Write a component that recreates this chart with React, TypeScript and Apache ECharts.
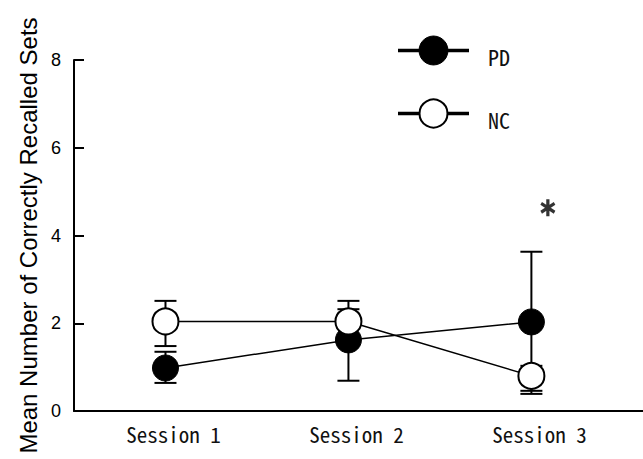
import React, { useEffect, useRef } from "react";
import * as echarts from "echarts";

const categories = ["Session 1", "Session 2", "Session 3"];
const xPositions = [1, 2, 3];
const pdMean = [0.98, 1.62, 2.03];
const pdLow = [0.64, 0.69, 0.46];
const pdHigh = [1.35, 2.32, 3.63];
const ncMean = [2.04, 2.04, 0.8];
const ncLow = [1.48, 1.57, 0.39];
const ncHigh = [2.51, 2.51, 1.03];
const yMin = 0;
const yMax = 8;
const yInterval = 2;
const sigMark = [3.09, 4.63];

const monoFont = '"Noto Sans Mono CJK JP", "DejaVu Sans Mono", monospace';
const sansFont = '"Liberation Sans", Arial, sans-serif';

const asteriskPath =
  "path://M40 0 L60 0 L60 100 L40 100 Z M86.6 15 L96.6 32.3 L13.4 85 L3.4 67.7 Z M3.4 32.3 L13.4 15 L96.6 67.7 L86.6 85 Z";

function errorRender(params: any, api: any) {
  const x = api.value(0);
  const lo = api.value(1);
  const hi = api.value(2);
  const pLo = api.coord([x, lo]);
  const pHi = api.coord([x, hi]);
  const hw = 11;
  const style = { stroke: "#000", lineWidth: 2 };
  return {
    type: "group",
    children: [
      { type: "line", shape: { x1: pLo[0], y1: pLo[1], x2: pHi[0], y2: pHi[1] }, style },
      { type: "line", shape: { x1: pLo[0] - hw, y1: pLo[1], x2: pLo[0] + hw, y2: pLo[1] }, style },
      { type: "line", shape: { x1: pHi[0] - hw, y1: pHi[1], x2: pHi[0] + hw, y2: pHi[1] }, style },
    ],
  };
}

export default function App() {
  const ref = useRef<HTMLDivElement>(null);
  useEffect(() => {
    if (!ref.current) return;
    const chart = echarts.init(ref.current, null, { renderer: "svg" });
    const pdPts = xPositions.map((x, i) => [x, pdMean[i]]);
    const ncPts = xPositions.map((x, i) => [x, ncMean[i]]);
    const pdErr = xPositions.map((x, i) => [x, pdLow[i], pdHigh[i]]);
    const ncErr = xPositions.map((x, i) => [x, ncLow[i], ncHigh[i]]);
    chart.setOption({
      animation: false,
      backgroundColor: "#fff",
      grid: { left: 74, right: 0, top: 60, bottom: 48, containLabel: false },
      xAxis: {
        type: "value",
        min: 0.5,
        max: 3.61,
        splitLine: { show: false },
        axisTick: { show: false },
        axisLine: { show: true, onZero: false, lineStyle: { color: "#000", width: 2 } },
        axisLabel: {
          customValues: xPositions,
          formatter: (v: number) => categories[Math.round(v) - 1] ?? "",
          color: "#111",
          fontFamily: monoFont,
          fontSize: 21,
          margin: 12,
          padding: [0, 0, 0, 16],
        },
      },
      yAxis: {
        type: "value",
        min: yMin,
        max: yMax,
        interval: yInterval,
        splitLine: { show: false },
        axisLine: { show: true, lineStyle: { color: "#000", width: 2 } },
        axisTick: { show: true, inside: true, length: 10, lineStyle: { color: "#000", width: 2 } },
        axisLabel: {
          color: "#000",
          fontFamily: sansFont,
          fontSize: 18,
          margin: 13,
          padding: [6, 0, 0, 0],
        },
        name: "Mean Number of Correctly Recalled Sets",
        nameLocation: "middle",
        nameGap: 34,
        nameTextStyle: { color: "#000", fontFamily: sansFont, fontSize: 24 },
      },
      series: [
        {
          type: "custom",
          name: "PD err",
          renderItem: errorRender,
          data: pdErr,
          encode: { x: 0, y: [1, 2] },
          z: 1,
        },
        {
          type: "custom",
          name: "NC err",
          renderItem: errorRender,
          data: ncErr,
          encode: { x: 0, y: [1, 2] },
          z: 1,
        },
        {
          type: "line",
          name: "PD",
          data: pdPts,
          symbol: "circle",
          symbolSize: 26,
          lineStyle: { color: "#000", width: 1.5 },
          itemStyle: { color: "#000", borderColor: "#000", borderWidth: 1 },
          z: 2,
        },
        {
          type: "line",
          name: "NC",
          data: ncPts,
          symbol: "circle",
          symbolSize: 26,
          lineStyle: { color: "#000", width: 1.5 },
          itemStyle: { color: "#fff", borderColor: "#000", borderWidth: 2 },
          z: 3,
        },
        {
          type: "scatter",
          name: "sig",
          data: [sigMark],
          symbol: asteriskPath,
          symbolSize: [15, 17],
          itemStyle: { color: "#000" },
          z: 4,
        },
      ],
      graphic: [
        { type: "line", shape: { x1: 398, y1: 50.5, x2: 469, y2: 50.5 }, style: { stroke: "#000", lineWidth: 3.5 } },
        { type: "circle", shape: { cx: 433.5, cy: 50.5, r: 14.5 }, style: { fill: "#000", stroke: "#000", lineWidth: 1 } },
        {
          type: "text",
          x: 488,
          y: 56,
          style: { text: "PD", fill: "#111", fontFamily: monoFont, fontSize: 22, verticalAlign: "middle", align: "left" },
        },
        { type: "line", shape: { x1: 398, y1: 113.5, x2: 469, y2: 113.5 }, style: { stroke: "#000", lineWidth: 3.5 } },
        { type: "circle", shape: { cx: 433.5, cy: 113.5, r: 14 }, style: { fill: "#fff", stroke: "#000", lineWidth: 2 } },
        {
          type: "text",
          x: 488,
          y: 119,
          style: { text: "NC", fill: "#111", fontFamily: monoFont, fontSize: 22, verticalAlign: "middle", align: "left" },
        },
      ],
    });
    return () => chart.dispose();
  }, []);
  return <div ref={ref} style={{ width: 643, height: 459, position: "absolute", left: 0, top: 0 }} />;
}
